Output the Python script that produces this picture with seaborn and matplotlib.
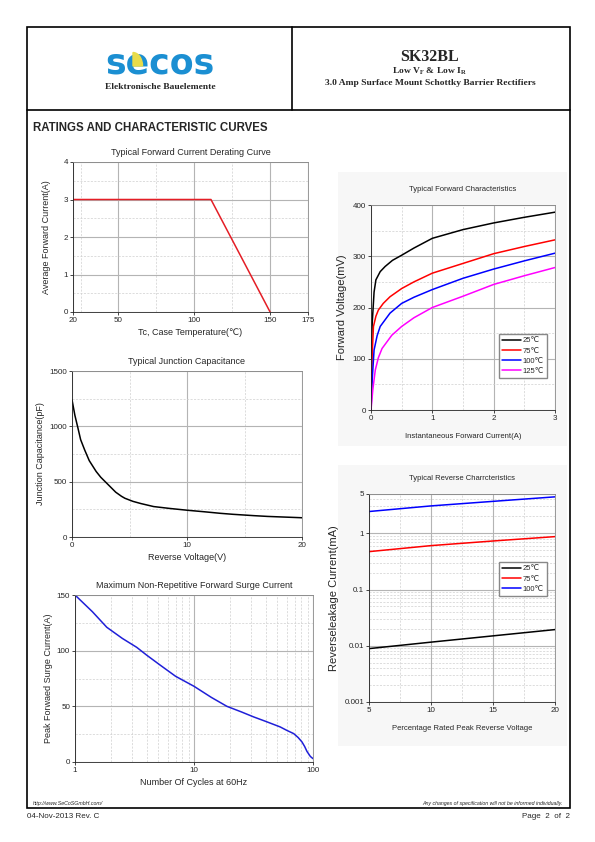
import numpy as np
import pandas as pd
import seaborn as sns
from matplotlib import pyplot as plt
from matplotlib.patches import Rectangle, Wedge
from matplotlib.lines import Line2D
from matplotlib.ticker import FixedLocator, NullFormatter
from matplotlib import font_manager

# ---- data ----
derate_temp = [20, 111, 150]
derate_amp = [3.0, 3.0, 0.0]

cap_volt = [0, 0.25, 0.52, 0.75, 1.1, 1.5, 2.1, 2.5, 3.3, 3.8, 4.3, 4.6, 5.3, 6, 7.1, 8.5, 10,
            11.5, 12.9, 14, 15.8, 17, 20]
cap_pf = [1240, 1100, 983, 880, 787, 690, 592, 540, 457, 405, 368, 350, 322, 302, 275, 258, 242,
          228, 214, 205, 193, 186, 174]

surge_cycles = [1, 1.4, 1.85, 2.5, 3.3, 4, 5.2, 7, 10, 14, 18.9, 25, 31.7, 40, 53, 60, 68.8, 75,
                80.8, 85, 89, 95, 100]
surge_amp = [150, 135, 121, 111, 103, 96, 87, 77, 68, 58, 50, 45, 40.5, 36.5, 31.5, 28.5, 25.5,
             22, 18, 14, 9.5, 5, 3]

fwd_x_25 = [0, 0.02, 0.05, 0.08, 0.15, 0.23, 0.35, 0.5, 0.7, 1.0, 1.5, 2.0, 2.5, 3.0]
fwd_y_25 = [100, 170, 230, 254, 270, 280, 292, 302, 316, 335, 352, 365, 376, 386]
fwd_x_75 = [0, 0.02, 0.04, 0.08, 0.12, 0.2, 0.31, 0.5, 0.7, 1.0, 1.5, 2.0, 2.5, 3.0]
fwd_y_75 = [0, 110, 163, 183, 195, 208, 221, 237, 250, 267, 286, 305, 319, 332]
fwd_x_100 = [0, 0.02, 0.05, 0.1, 0.15, 0.31, 0.5, 0.7, 1.0, 1.5, 2.0, 2.5, 3.0]
fwd_y_100 = [0, 60, 117, 145, 163, 189, 208, 220, 235, 257, 275, 291, 306]
fwd_x_125 = [0, 0.03, 0.07, 0.12, 0.18, 0.34, 0.5, 0.7, 1.0, 1.5, 2.0, 2.5, 3.0]
fwd_y_125 = [0, 40, 78, 102, 120, 146, 163, 180, 200, 222, 245, 262, 278]

rev_pct = [5, 10, 15, 20]
rev_25 = [0.0089, 0.0116, 0.0150, 0.0194]
rev_75 = [0.472, 0.604, 0.73, 0.873]
rev_100 = [2.44, 3.07, 3.7, 4.45]

sns.set_style('white')
plt.rcParams['font.family'] = ['Liberation Sans', 'DejaVu Sans']

installed = {f.name for f in font_manager.fontManager.ttflist}
narrow = ['Liberation Sans Narrow', 'DejaVu Sans'] if 'Liberation Sans Narrow' in installed \
    else ['Liberation Sans', 'DejaVu Sans']
narrow_scale = 1.0 if 'Liberation Sans Narrow' in installed else 0.84

W, H = 595, 842
fig = plt.figure(figsize=(5.95, 8.42), dpi=100)


def fx(px):
    return px / W


def fy(py):
    return 1 - py / H


def box(l, t, r, b):
    return [fx(l), fy(b), (r - l) / W, (b - t) / H]


def ftext(px, py, s, **kw):
    fig.text(fx(px), fy(py), s, **kw)


def fline(x0, y0, x1, y1, lw=1.2):
    fig.add_artist(Line2D([fx(x0), fx(x1)], [fy(y0), fy(y1)], color='black', lw=lw))


# ---- page frame and header ----
fig.add_artist(Rectangle((fx(27), fy(808)), (570 - 27) / W, (808 - 27) / H,
                         fill=False, lw=1.2, edgecolor='black'))
fline(27, 110, 570, 110)
fline(292, 27, 292, 110)

blue_logo = '#1b8fd2'
ftext(160, 64, 'secos', ha='center', va='center', fontsize=25, fontweight='heavy',
      color=blue_logo, family='DejaVu Sans')
fig.add_artist(Wedge((fx(133), fy(66)), 0.016, 0, 90, color='#e8dc4a',
                     transform=fig.transFigure, zorder=5))
ftext(160, 87, 'Elektronische Bauelemente', ha='center', va='center', fontsize=6.8,
      fontweight='bold', family='Liberation Serif')

ftext(430, 57, 'SK32BL', ha='center', va='center', fontsize=11.5, fontweight='bold',
      family='Liberation Serif')
ftext(430, 71, r'Low V$_\mathregular{F}$ & Low I$_\mathregular{R}$', ha='center', va='center',
      fontsize=6.8, fontweight='bold', family='Liberation Serif')
ftext(430, 83, '3.0 Amp Surface Mount Schottky Barrier Rectifiers', ha='center', va='center',
      fontsize=6.8, fontweight='bold', family='Liberation Serif')

ftext(33, 128, 'RATINGS AND CHARACTERISTIC CURVES', ha='left', va='center', fontsize=8.3,
      fontweight='bold')

# light panels behind right charts
for (l, t, r, b) in [(338, 172, 567, 446), (338, 465, 567, 746)]:
    fig.add_artist(Rectangle((fx(l), fy(b)), (r - l) / W, (b - t) / H,
                             facecolor='#f7f7f7', edgecolor='none', zorder=-5))

ftext(33, 803, 'http://www.SeCoSGmbH.com/', ha='left', va='center', fontsize=3.8, style='italic')
ftext(563, 803, 'Any changes of specification will not be informed individually.', ha='right',
      va='center', fontsize=3.8, style='italic')
ftext(27, 817, '04-Nov-2013 Rev. C', ha='left', va='center', fontsize=5.8)
ftext(570, 817, 'Page  2  of  2', ha='right', va='center', fontsize=5.8)

FS = 5.8
major_kw = dict(color='#b4b4b4', lw=0.8, ls='-')
minor_kw = dict(color='#cfcfcf', lw=0.5, ls=(0, (3, 2)))


def style_axes(ax, title, xlabel, ylabel, right=False, ypad=3):
    ax.set_facecolor('white')
    if right:
        ax.set_title(title, fontsize=6.6 * narrow_scale, pad=10, family=narrow)
        ax.set_xlabel(xlabel, fontsize=6.6 * narrow_scale, labelpad=8, family=narrow)
        ax.set_ylabel(ylabel, fontsize=8.0, labelpad=4)
        lab_fam = narrow
    else:
        ax.set_title(title, fontsize=6.5, pad=5)
        ax.set_xlabel(xlabel, fontsize=6.5, labelpad=3)
        ax.set_ylabel(ylabel, fontsize=6.5, labelpad=ypad)
        lab_fam = None
    ax.tick_params(axis='both', which='major', labelsize=FS, length=2, width=0.6, pad=1.5,
                   direction='out', left=True, bottom=True)
    ax.tick_params(axis='both', which='minor', length=0)
    if lab_fam:
        for t in ax.get_xticklabels() + ax.get_yticklabels():
            t.set_family(lab_fam)
    ax.grid(True, which='major', **major_kw)
    ax.grid(True, which='minor', **minor_kw)
    for s in ax.spines.values():
        s.set_linewidth(0.6)
        s.set_color('#888888')
    ax.spines['left'].set_color('#222222')
    ax.spines['bottom'].set_color('#222222')
    ax.set_axisbelow(True)


# ---- chart 1: derating ----
ax1 = fig.add_axes(box(73, 162, 308, 312))
sns.lineplot(x=derate_temp, y=derate_amp, ax=ax1, color='#e41e26', lw=1.1)
ax1.set_xlim(20, 175)
ax1.set_ylim(0, 4)
ax1.set_xticks([20, 50, 100, 150, 175])
ax1.set_yticks([0, 1, 2, 3, 4])
ax1.xaxis.set_minor_locator(FixedLocator([25, 75, 125]))
ax1.yaxis.set_minor_locator(FixedLocator([0.5, 1.5, 2.5, 3.5]))
style_axes(ax1, 'Typical Forward Current Derating Curve', 'Tc, Case Temperature(\u2103)',
           'Average Forward Current(A)', ypad=9)

# ---- chart 2: capacitance ----
ax2 = fig.add_axes(box(72, 371, 302, 537))
sns.lineplot(x=cap_volt, y=cap_pf, ax=ax2, color='black', lw=1.1)
ax2.set_xlim(0, 20)
ax2.set_ylim(0, 1500)
ax2.set_xticks([0, 10, 20])
ax2.set_yticks([0, 500, 1000, 1500])
ax2.xaxis.set_minor_locator(FixedLocator([5, 15]))
ax2.yaxis.set_minor_locator(FixedLocator([250, 750, 1250]))
style_axes(ax2, 'Typical Junction Capacitance', 'Reverse Voltage(V)', 'Junction Capacitance(pF)')

# ---- chart 3: surge ----
ax3 = fig.add_axes(box(75, 595, 313, 762))
sns.lineplot(x=surge_cycles, y=surge_amp, ax=ax3, color='#1f1fd8', lw=1.1)
ax3.set_xscale('log')
ax3.set_xlim(1, 100)
ax3.set_ylim(0, 150)
ax3.set_xticks([1, 10, 100])
ax3.set_xticklabels(['1', '10', '100'])
ax3.xaxis.set_minor_locator(FixedLocator([k * d for d in (1, 10) for k in range(2, 10)]))
ax3.xaxis.set_minor_formatter(NullFormatter())
ax3.set_yticks([0, 50, 100, 150])
ax3.yaxis.set_minor_locator(FixedLocator([25, 75, 125]))
style_axes(ax3, 'Maximum Non-Repetitive Forward Surge Current', 'Number Of Cycles at 60Hz',
           'Peak Forwaed Surge Current(A)')

leg_kw = dict(loc='upper left', bbox_transform=fig.transFigure, frameon=True, fancybox=False,
              edgecolor='#888888', framealpha=1, handlelength=2.4, handletextpad=0.3,
              borderpad=0.4, labelspacing=0.35, borderaxespad=0,
              prop={'family': narrow, 'size': 6.6 * narrow_scale})

# ---- chart 4: forward characteristics ----
ax4 = fig.add_axes(box(371, 205, 555, 410))
fwd = [(fwd_x_25, fwd_y_25, 'black', '25\u2103'),
       (fwd_x_75, fwd_y_75, '#ff0000', '75\u2103'),
       (fwd_x_100, fwd_y_100, '#0000ff', '100\u2103'),
       (fwd_x_125, fwd_y_125, '#ff00ff', '125\u2103')]
for xs, ys, c, lab in fwd:
    sns.lineplot(x=xs, y=ys, ax=ax4, color=c, lw=1.1, label=lab)
ax4.set_xlim(0, 3)
ax4.set_ylim(0, 400)
ax4.set_xticks([0, 1, 2, 3])
ax4.set_yticks([0, 100, 200, 300, 400])
ax4.xaxis.set_minor_locator(FixedLocator([0.5, 1.5, 2.5]))
ax4.yaxis.set_minor_locator(FixedLocator([50, 150, 250, 350]))
style_axes(ax4, 'Typical Forward Characteristics', 'Instantaneous Forward Current(A)',
           'Forward Voltage(mV)', right=True)
ax4.legend(bbox_to_anchor=(fx(499), fy(334)), **leg_kw)

# ---- chart 5: reverse characteristics ----
ax5 = fig.add_axes(box(369, 494, 555, 702))
rev = [(rev_25, 'black', '25\u2103'), (rev_75, '#ff0000', '75\u2103'),
       (rev_100, '#0000ff', '100\u2103')]
for ys, c, lab in rev:
    sns.lineplot(x=rev_pct, y=ys, ax=ax5, color=c, lw=1.1, label=lab)
ax5.set_yscale('log')
ax5.set_xlim(5, 20)
ax5.set_ylim(0.001, 5)
ax5.set_xticks([5, 10, 15, 20])
ax5.set_yticks([0.001, 0.01, 0.1, 1, 5])
ax5.set_yticklabels(['0.001', '0.01', '0.1', '1', '5'])
ax5.yaxis.set_minor_locator(FixedLocator([k * d for d in (0.001, 0.01, 0.1, 1) for k in range(2, 10)
                                          if k * d < 5]))
ax5.yaxis.set_minor_formatter(NullFormatter())
ax5.xaxis.set_minor_locator(FixedLocator([7.5, 12.5, 17.5]))
style_axes(ax5, 'Typical Reverse Charrcteristics', 'Percentage Rated Peak Reverse Voltage',
           'Reverseleakage Current(mA)', right=True)
ax5.legend(bbox_to_anchor=(fx(499), fy(562)), **leg_kw)

fig.savefig('out.png', dpi=100)
